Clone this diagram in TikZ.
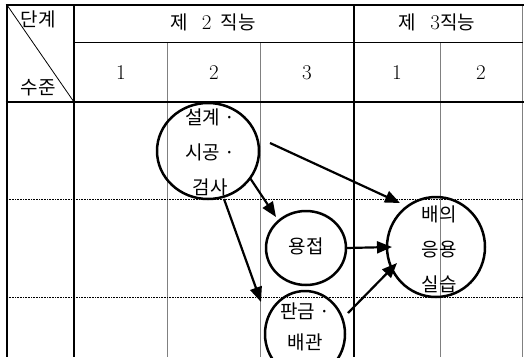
\documentclass[tikz,border=0pt]{standalone}
\usepackage{fontspec}
\newfontfamily\kr{Noto Sans CJK KR}
\newfontfamily\lm{Latin Modern Roman}
\usetikzlibrary{arrows.meta,shapes.geometric,calc}
\begin{document}
\begin{tikzpicture}[x=1pt,y=-1pt,
  bord/.style={line width=2.7pt},
  gl/.style={line width=0.9pt,black!50},
  dotline/.style={line width=0.6pt,densely dotted},
  circ/.style={ellipse,draw,line width=2.5pt,inner sep=0pt},
  arr/.style={-{Triangle[length=15pt,width=12pt]},line width=2.2pt},
  kt/.style={font=\kr\fontsize{19}{35}\selectfont,align=center,inner sep=0pt},
  dg/.style={font=\lm\fontsize{21}{22}\selectfont,inner sep=0pt}
]
\useasboundingbox (0,0) rectangle (524,357);
% thin lines
\draw[gl] (167,42) -- (167,357);
\draw[gl] (260,42) -- (260,357);
\draw[gl] (440,42) -- (440,357);
\draw[gl] (522.5,5) -- (522.5,357);
\draw[line width=0.9pt] (74,42) -- (523,42);
\draw[dotline] (7,199) -- (523,199);
\draw[dotline] (7,297) -- (523,297);
\draw[line width=0.8pt] (7,5) -- (74,102);
% thick lines
\draw[bord] (7,5) -- (7,357);
\draw[bord] (74,5) -- (74,357);
\draw[bord] (354,5) -- (354,357);
\draw[bord] (5.6,5) -- (524,5);
\draw[bord] (5.6,102) -- (524,102);
% header texts
\node[kt] (h1) at (38,19) {단계};
\node[kt] (h2) at (38,88) {수준};
\node[kt] (h3) at (213,22) {제\hspace{14pt}{\lm\fontsize{21}{22}\selectfont 2}\hspace{9pt}직능};
\node[kt] (h4) at (437,22) {제\hspace{14pt}{\lm\fontsize{21}{22}\selectfont 3}직능};
\node[dg] (n1) at (121,73) {1};
\node[dg] (n2) at (214,73) {2};
\node[dg] (n3) at (307,73) {3};
\node[dg] (n4) at (397,73) {1};
\node[dg] (n5) at (481,73) {2};
% circles
\node[circ,minimum width=102pt,minimum height=96pt] (c1) at (208,151) {};
\node[kt] (c1t) at (210,152) {설계 ·\\시공 ·\\검사};
\node[circ,minimum width=80pt,minimum height=74pt] (c2) at (306,248) {};
\node[kt] (c2t) at (306,246) {용접};
\node[circ,minimum width=98pt,minimum height=100pt] (c3) at (436,247) {};
\node[kt] (c3t) at (439,249) {배의\\응용\\실습};
\node[circ,minimum width=80pt,minimum height=86pt] (c4) at (305,334) {};
\node[kt,font=\kr\fontsize{19}{31}\selectfont] (c4t) at (305,327) {판금 ·\\배관};
% arrows
\draw[arr] ($(c1.center)+(62,-8)$) -- ($(c3.center)+(-36,-44)$);
\draw[arr] ($(c1.center)+(42,27)$) -- ($(c2.center)+(-30,-31)$);
\draw[arr] ($(c1.center)+(16,48)$) -- ($(c4.center)+(-44,-32)$);
\draw[arr] ($(c2.center)+(40,0)$) -- ($(c3.center)+(-44,0)$);
\draw[arr] ($(c4.center)+(43,-21)$) -- ($(c3.center)+(-39,16)$);
\end{tikzpicture}
\end{document}
